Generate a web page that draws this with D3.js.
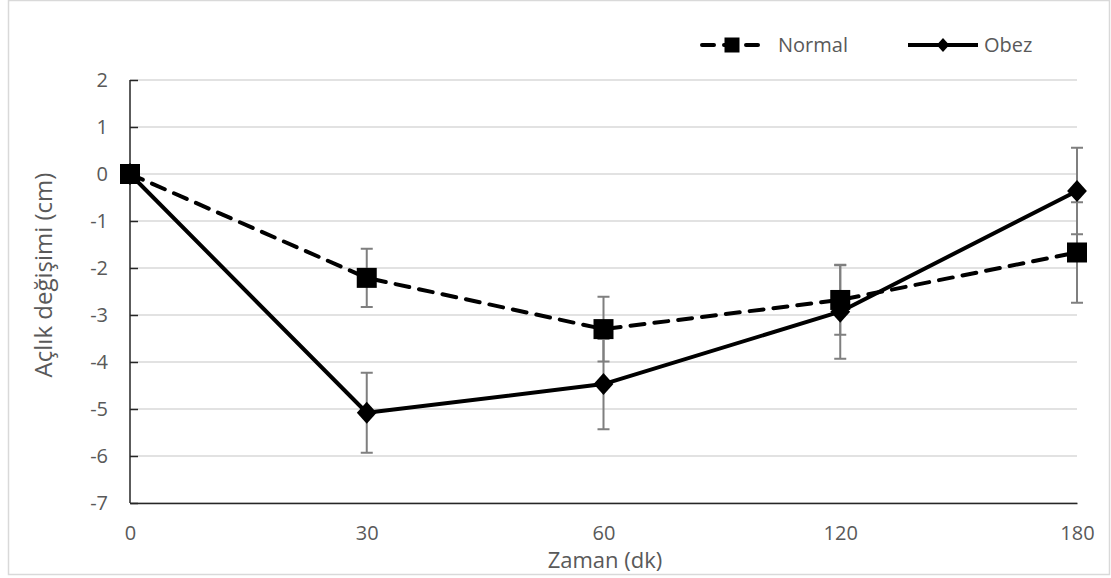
<!DOCTYPE html>
<html>
<head>
<meta charset="utf-8">
<script src="https://cdn.jsdelivr.net/npm/d3@7"></script>
<style>
  html, body { margin: 0; padding: 0; background: #fff; }
  svg { display: block; font-family: "Open Sans", "DejaVu Sans", sans-serif; }
</style>
</head>
<body>
<svg id="chart" width="1111" height="578"></svg>
<script>
// Time points (minutes) and mean change per group with error (±)
const categories = ["0", "30", "60", "120", "180"];
const normalValues = [0, -2.21, -3.30, -2.68, -1.67];
const normalErrors = [0, 0.62, 0.69, 0.74, 1.07];
const obezValues = [0, -5.08, -4.47, -2.93, -0.36];
const obezErrors = [0, 0.85, 0.96, 1.00, 0.92];
const yTicks = [2, 1, 0, -1, -2, -3, -4, -5, -6, -7];

const svg = d3.select("#chart");
const textColor = "#595959";

// outer frame
svg.append("rect")
  .attr("x", 8.5).attr("y", 0.5)
  .attr("width", 1101).attr("height", 574)
  .attr("fill", "#fff").attr("stroke", "#d9d9d9").attr("stroke-width", 1.5);

const x = d3.scalePoint().domain(categories).range([130, 1077]);
const y = d3.scaleLinear().domain([-7, 2]).range([503, 80]);

// horizontal gridlines
svg.append("g").selectAll("line").data(yTicks).join("line")
  .attr("x1", x.range()[0]).attr("x2", x.range()[1])
  .attr("y1", d => y(d)).attr("y2", d => y(d))
  .attr("stroke", "#d9d9d9").attr("stroke-width", 1.5);

// y axis with inward ticks; labels keep a plain hyphen for negatives
const yAxis = svg.append("g")
  .attr("transform", `translate(${x.range()[0]},0)`)
  .call(d3.axisLeft(y).tickValues(yTicks).tickSize(-8).tickPadding(22).tickFormat(d => String(d)));
yAxis.select(".domain").attr("stroke", "#262626").attr("stroke-width", 1.5)
  .attr("d", `M0,${y(2)}V${y(-7)}`);
yAxis.selectAll(".tick line").attr("stroke", "#262626").attr("stroke-width", 1.5);
yAxis.selectAll(".tick text").attr("fill", textColor)
  .style("font-size", "20px").style("font-family", "'Open Sans', sans-serif");

// x axis (line only, no ticks)
const xAxis = svg.append("g")
  .attr("transform", `translate(0,${y(-7)})`)
  .call(d3.axisBottom(x).tickSize(0).tickPadding(23));
xAxis.select(".domain").attr("stroke", "#262626").attr("stroke-width", 1.5);
xAxis.selectAll(".tick text").attr("fill", textColor)
  .style("font-size", "20px").style("font-family", "'Open Sans', sans-serif");

// axis titles
svg.append("text")
  .attr("x", 605).attr("y", 568)
  .attr("text-anchor", "middle").attr("fill", textColor)
  .style("font-size", "22px")
  .text("Zaman (dk)");
svg.append("text")
  .attr("transform", "translate(52,275) rotate(-90)")
  .attr("text-anchor", "middle").attr("fill", textColor)
  .style("font-size", "24px")
  .text("Açlık değişimi (cm)");

// error bars
function errorBars(values, errors) {
  const g = svg.append("g").attr("stroke", "#7f7f7f").attr("stroke-width", 2).attr("fill", "none");
  const rows = categories.map((c, i) => ({ c, v: values[i], e: errors[i] })).filter(d => d.e > 0);
  g.selectAll("path").data(rows).join("path")
    .attr("d", d => {
      const cx = x(d.c), y1 = y(d.v + d.e), y2 = y(d.v - d.e);
      return `M${cx},${y1}V${y2}M${cx - 6},${y1}H${cx + 6}M${cx - 6},${y2}H${cx + 6}`;
    });
}
errorBars(normalValues, normalErrors);
errorBars(obezValues, obezErrors);

const line = d3.line().x(d => x(d.c)).y(d => y(d.v));
const normalRows = categories.map((c, i) => ({ c, v: normalValues[i] }));
const obezRows = categories.map((c, i) => ({ c, v: obezValues[i] }));

const dash = "14,10";
const squareSym = d3.symbol().type(d3.symbolSquare).size(400);
const diamondPath = (r) => `M0,${-r}L${r * 0.9},0L0,${r}L${-r * 0.9},0Z`;

// Obez series: solid line with diamond markers
svg.append("path").datum(obezRows)
  .attr("d", line).attr("fill", "none")
  .attr("stroke", "#000").attr("stroke-width", 4).attr("stroke-linejoin", "round");
svg.append("g").selectAll("path").data(obezRows).join("path")
  .attr("transform", d => `translate(${x(d.c)},${y(d.v)})`)
  .attr("d", diamondPath(11)).attr("fill", "#000");

// Normal series: dashed line with square markers
svg.append("path").datum(normalRows)
  .attr("d", line).attr("fill", "none")
  .attr("stroke", "#000").attr("stroke-width", 4)
  .attr("stroke-dasharray", dash).attr("stroke-linecap", "round");
svg.append("g").selectAll("path").data(normalRows).join("path")
  .attr("transform", d => `translate(${x(d.c)},${y(d.v)})`)
  .attr("d", squareSym).attr("fill", "#000");

// legend
const legend = svg.append("g");
legend.append("line")
  .attr("x1", 702).attr("x2", 764).attr("y1", 45).attr("y2", 45)
  .attr("stroke", "#000").attr("stroke-width", 4)
  .attr("stroke-dasharray", "12,10").attr("stroke-linecap", "round");
legend.append("path")
  .attr("transform", "translate(732,45)")
  .attr("d", d3.symbol().type(d3.symbolSquare).size(225)).attr("fill", "#000");
legend.append("text")
  .attr("x", 778).attr("y", 52).attr("fill", textColor)
  .style("font-size", "20px").text("Normal");
legend.append("line")
  .attr("x1", 908).attr("x2", 978).attr("y1", 45).attr("y2", 45)
  .attr("stroke", "#000").attr("stroke-width", 4);
legend.append("path")
  .attr("transform", "translate(943,45)")
  .attr("d", diamondPath(7)).attr("fill", "#000");
legend.append("text")
  .attr("x", 984).attr("y", 52).attr("fill", textColor)
  .style("font-size", "20px").text("Obez");
</script>
</body>
</html>
